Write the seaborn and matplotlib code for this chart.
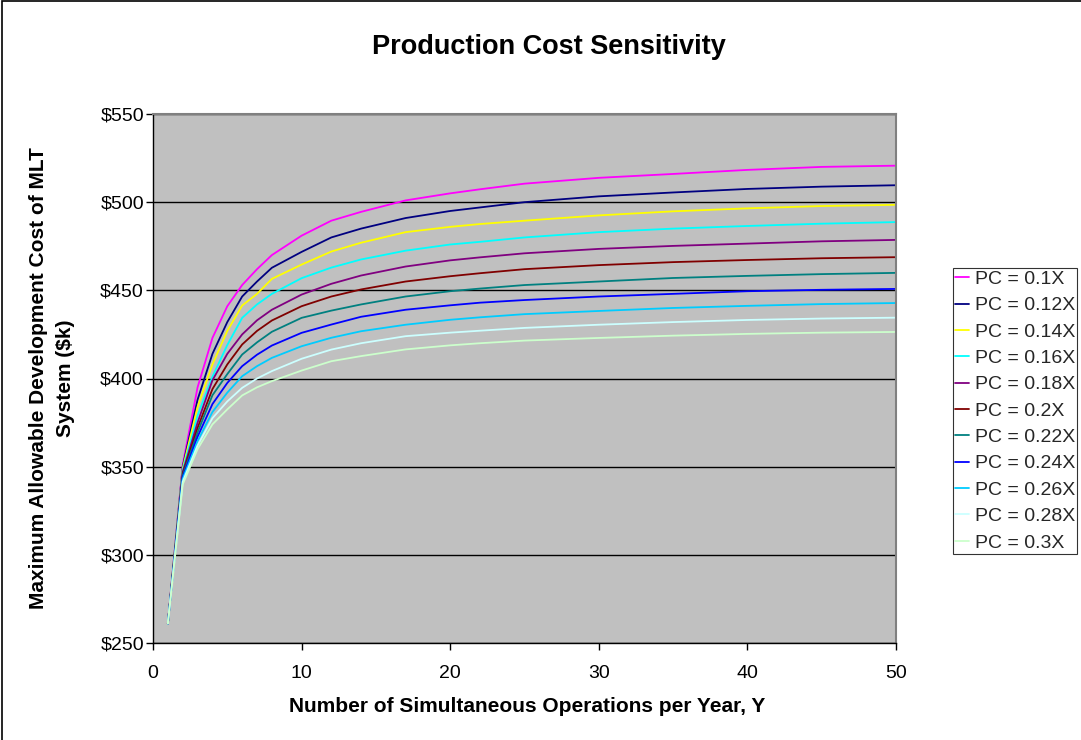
import matplotlib
matplotlib.use("Agg")
import matplotlib.pyplot as plt
import seaborn as sns
import pandas as pd
from matplotlib.patches import Rectangle
from matplotlib.ticker import FuncFormatter

# ---- data ----
ops_per_year = [1, 2, 3, 4, 5, 6, 7, 8, 10, 12, 14, 17, 20, 22, 25, 30, 35, 40, 45, 50]

pc_010 = [261, 351, 395, 423, 441, 453, 462, 470, 481, 489.5, 494.5, 501, 505, 507.3, 510.5, 513.8, 516, 518.3, 520, 520.7]
pc_012 = [261, 350, 388, 414, 432, 446.5, 455, 462.8, 471.8, 480, 485, 491, 495, 497, 500, 503.3, 505.5, 507.5, 508.8, 509.6]
pc_014 = [261, 349, 384, 408, 427, 441.4, 448, 456.5, 464.6, 472, 477, 483, 486, 487.6, 489.5, 492.5, 494.8, 496.5, 497.8, 498.5]
pc_016 = [261, 348, 379, 401, 419, 434.4, 442, 448, 456.9, 462.9, 467.5, 472.5, 476, 477.5, 480, 483, 485, 486.5, 487.8, 488.7]
pc_018 = [261, 347, 375, 399, 414, 425, 433, 439, 447.6, 453.7, 458.4, 463.5, 467, 468.7, 471, 473.5, 475.2, 476.5, 477.8, 478.6]
pc_020 = [261, 346, 372, 394, 408, 419.3, 427, 432.9, 441, 446.5, 450.5, 455, 458, 459.7, 462, 464.3, 466, 467.2, 468.2, 468.8]
pc_022 = [261, 345, 369.5, 390.5, 402.5, 413.6, 420.5, 426.5, 434.4, 438.5, 442, 446.5, 449.5, 451, 453, 455, 457, 458.2, 459.2, 459.9]
pc_024 = [261, 344, 367, 385.5, 397.5, 407, 413.5, 418.7, 425.9, 430.6, 435, 439, 441.5, 443, 444.5, 446.5, 448, 449.5, 450.3, 450.8]
pc_026 = [261, 343, 364.5, 381, 392, 401.3, 407, 411.7, 418.3, 423.1, 426.8, 430.5, 433.3, 434.7, 436.5, 438.3, 440, 441.2, 442.2, 442.8]
pc_028 = [261, 341.5, 362, 377.5, 387, 394.7, 400, 404.2, 411.2, 416.4, 420, 424, 426, 427.1, 428.7, 430.5, 432, 433.2, 434, 434.5]
pc_030 = [261, 340, 360, 374, 382.5, 390.4, 395, 398.5, 404.5, 409.8, 412.7, 416.5, 418.8, 420, 421.5, 423, 424.3, 425.3, 426, 426.4]

series_labels = ["PC = 0.1X", "PC = 0.12X", "PC = 0.14X", "PC = 0.16X", "PC = 0.18X",
                 "PC = 0.2X", "PC = 0.22X", "PC = 0.24X", "PC = 0.26X", "PC = 0.28X", "PC = 0.3X"]
series_values = [pc_010, pc_012, pc_014, pc_016, pc_018, pc_020, pc_022, pc_024, pc_026, pc_028, pc_030]
series_colors = ["#FF00FF", "#000080", "#FFFF00", "#00FFFF", "#800080", "#800000",
                 "#008080", "#0000FF", "#00CCFF", "#CCFFFF", "#CCFFCC"]

y_ticks = [250, 300, 350, 400, 450, 500, 550]
x_ticks = [0, 10, 20, 30, 40, 50]

rows = []
for lab, vals in zip(series_labels, series_values):
    for x, v in zip(ops_per_year, vals):
        rows.append({"Y": x, "value": v, "series": lab})
df = pd.DataFrame(rows)

# ---- style ----
sns.set_theme(style="white")
plt.rcParams["font.family"] = ["Liberation Sans", "DejaVu Sans"]

fig = plt.figure(figsize=(10.81, 7.40), dpi=100)
ax = fig.add_axes([153 / 1081, 1 - 643 / 740, 743 / 1081, 529 / 740])

sns.lineplot(data=df, x="Y", y="value", hue="series", hue_order=series_labels,
             palette=dict(zip(series_labels, series_colors)), estimator=None,
             linewidth=1.3, ax=ax, legend=True)

ax.set_facecolor("#C0C0C0")
ax.set_xlim(0, 50)
ax.set_ylim(250, 550)
ax.set_xticks(x_ticks)
ax.set_yticks(y_ticks)
ax.yaxis.set_major_formatter(FuncFormatter(lambda v, p: f"${v:.0f}"))
ax.grid(axis="y", color="black", linewidth=1.0)
ax.grid(axis="x", visible=False)
ax.set_axisbelow(True)
ax.tick_params(axis="both", direction="out", length=5, width=1, color="black",
               labelsize=14, labelcolor="black", left=True, bottom=True)
ax.tick_params(axis="x", pad=11)
ax.tick_params(axis="y", pad=1.5)
for side in ["left", "bottom"]:
    ax.spines[side].set_color("black")
    ax.spines[side].set_linewidth(1.0)
for side in ["top", "right"]:
    ax.spines[side].set_color("#808080")
    ax.spines[side].set_linewidth(1.5)

ax.set_xlabel("Number of Simultaneous Operations per Year, Y", fontsize=15,
              fontweight="bold", color="black")
ax.xaxis.set_label_coords(0.503, -0.103)
ax.set_ylabel("Maximum Allowable Development Cost of MLT\nSystem ($k)", fontsize=15,
              fontweight="bold", color="black", linespacing=1.55)
ax.yaxis.set_label_coords(-0.105, 0.5)

fig.text(549 / 1081, 1 - 47 / 740, "Production Cost Sensitivity", fontsize=19.5,
         fontweight="bold", ha="center", va="center", color="black")

handles, labels = ax.get_legend_handles_labels()
ax.get_legend().remove()
leg = fig.legend(handles, labels, loc="upper left",
                 bbox_to_anchor=(953 / 1081, 1 - 268 / 740), bbox_transform=fig.transFigure,
                 fontsize=14, frameon=True, fancybox=False, shadow=False,
                 borderaxespad=0, labelspacing=0.45, handlelength=0.7, handletextpad=0.3,
                 borderpad=0.12)
leg.get_frame().set_edgecolor("black")
leg.get_frame().set_linewidth(0.8)
leg.get_frame().set_facecolor("white")
for ln in leg.get_lines():
    ln.set_linewidth(1.3)

# outer chart border
fig.patches.append(Rectangle((2 / 1081, -0.01), 1.02, 1.0 - 1 / 740 + 0.01,
                             transform=fig.transFigure, fill=False,
                             edgecolor="black", linewidth=1.2))

fig.savefig("out.png", dpi=100)
